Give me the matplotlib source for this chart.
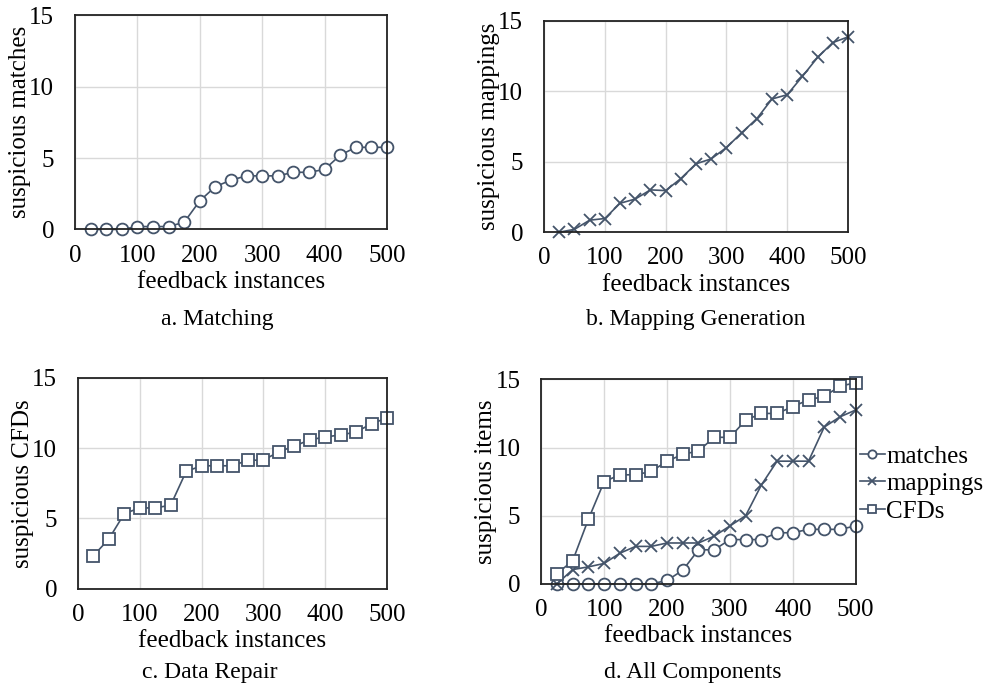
import matplotlib
matplotlib.use("Agg")
import matplotlib.pyplot as plt

plt.rcParams['font.family'] = ['Liberation Serif', 'DejaVu Serif']

# feedback instances (x axis)
feedback = [25, 50, 75, 100, 125, 150, 175, 200, 225, 250,
            275, 300, 325, 350, 375, 400, 425, 450, 475, 500]

# a. Matching
matches_a = [0, 0, 0, 0.2, 0.2, 0.2, 0.5, 2.0, 3.0, 3.45,
             3.75, 3.75, 3.75, 4.0, 4.0, 4.2, 5.2, 5.75, 5.75, 5.75]

# b. Mapping Generation
mappings_b = [0, 0.2, 0.85, 0.97, 2.05, 2.35, 3.0, 2.95, 3.8, 4.85,
              5.2, 6.0, 7.05, 8.05, 9.45, 9.75, 11.05, 12.4, 13.45, 13.85]

# c. Data Repair
cfds_c = [2.35, 3.55, 5.35, 5.75, 5.75, 5.95, 8.35, 8.75, 8.75, 8.75,
          9.15, 9.15, 9.75, 10.15, 10.6, 10.8, 10.95, 11.15, 11.75, 12.15]

# d. All Components
matches_d = [0, 0, 0, 0, 0, 0, 0, 0.25, 1.0, 2.5,
             2.5, 3.25, 3.25, 3.25, 3.75, 3.75, 4.0, 4.0, 4.0, 4.25]
mappings_d = [0, 1.05, 1.25, 1.5, 2.25, 2.75, 2.75, 3.0, 3.0, 3.0,
              3.5, 4.25, 5.0, 7.25, 9.0, 9.0, 9.0, 11.5, 12.25, 12.75]
cfds_d = [0.75, 1.7, 4.75, 7.5, 8.0, 8.0, 8.25, 9.0, 9.5, 9.75,
          10.75, 10.75, 12.0, 12.5, 12.5, 13.0, 13.5, 13.75, 14.5, 14.75]

col = "#44546A"
fs = 18

fig = plt.figure(figsize=(9.85, 6.91), dpi=100)


def style(ax, ylabel):
    ax.set_xlim(0, 500)
    ax.set_ylim(0, 15)
    ax.set_xticks([0, 100, 200, 300, 400, 500])
    ax.set_yticks([0, 5, 10, 15])
    ax.grid(True, color="#d9d9d9", linewidth=1.0)
    ax.set_axisbelow(True)
    for s in ax.spines.values():
        s.set_color("#222222")
        s.set_linewidth(1.3)
    ax.tick_params(axis="both", length=0, labelsize=fs)
    ax.tick_params(axis="x", pad=11)
    ax.tick_params(axis="y", pad=15)
    ax.set_xlabel("feedback instances", fontsize=fs, labelpad=3)
    ax.set_ylabel(ylabel, fontsize=fs, labelpad=-1)


circ = dict(marker="o", markersize=8.5, markerfacecolor="white",
            markeredgecolor=col, markeredgewidth=1.3)
sq = dict(marker="s", markersize=8.5, markerfacecolor="white",
          markeredgecolor=col, markeredgewidth=1.3)
crs = dict(marker="x", markersize=8.5, markeredgecolor=col, markeredgewidth=1.3)

ax1 = fig.add_axes([0.0761, 0.668, 0.3168, 0.310])
ax1.plot(feedback, matches_a, color=col, linewidth=1.2, clip_on=False, **circ)
style(ax1, "suspicious matches")

ax2 = fig.add_axes([0.5523, 0.664, 0.3086, 0.306])
ax2.plot(feedback, mappings_b, color=col, linewidth=1.2, clip_on=False, **crs)
style(ax2, "suspicious mappings")

ax3 = fig.add_axes([0.0792, 0.148, 0.3137, 0.305])
ax3.plot(feedback, cfds_c, color=col, linewidth=1.2, clip_on=False, **sq)
style(ax3, "suspicious CFDs")

ax4 = fig.add_axes([0.5495, 0.155, 0.3192, 0.296])
ax4.plot(feedback, matches_d, color=col, linewidth=1.2, clip_on=False,
         label="matches", **circ)
ax4.plot(feedback, mappings_d, color=col, linewidth=1.2, clip_on=False,
         label="mappings", **crs)
ax4.plot(feedback, cfds_d, color=col, linewidth=1.2, clip_on=False,
         label="CFDs", **sq)
style(ax4, "suspicious items")
ax4.legend(loc="upper left", bbox_to_anchor=(0.873, 0.356),
           bbox_transform=fig.transFigure, frameon=False, fontsize=fs,
           handlelength=1.0, handletextpad=0.05, labelspacing=0.2,
           borderaxespad=0, borderpad=0, markerscale=0.7)

cap = 17
fig.text(0.221, 0.538, "a. Matching", ha="center", va="center", fontsize=cap)
fig.text(0.706, 0.538, "b. Mapping Generation", ha="center", va="center", fontsize=cap)
fig.text(0.213, 0.027, "c. Data Repair", ha="center", va="center", fontsize=cap)
fig.text(0.703, 0.027, "d. All Components", ha="center", va="center", fontsize=cap)

fig.savefig("out.png", dpi=100)
